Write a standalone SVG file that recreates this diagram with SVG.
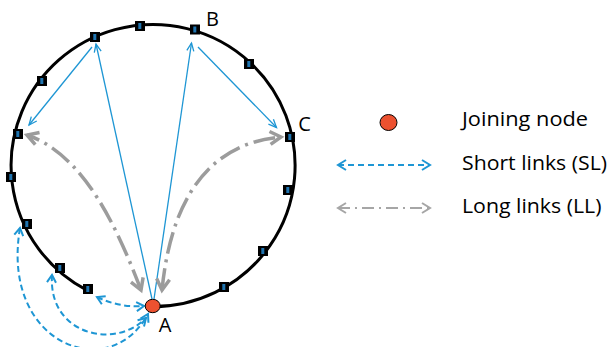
<svg xmlns="http://www.w3.org/2000/svg" width="609" height="347" viewBox="0 0 609 347">
<style>
.ring{fill:none;stroke:#000;stroke-width:3}
.sol{fill:none;stroke:#1E96D4;stroke-width:1.3;marker-end:url(#mb)}
.sl{fill:none;stroke:#1E96D4;stroke-width:2;stroke-dasharray:6 3.5;marker-start:url(#md);marker-end:url(#md)}
.ll{fill:none;stroke:#9C9C9C;stroke-width:3.5;stroke-dasharray:22 6 3 6;marker-start:url(#mg);marker-end:url(#mg)}
.lsl{fill:none;stroke:#1E96D4;stroke-width:2;stroke-dasharray:6 4;marker-start:url(#mdl);marker-end:url(#mdl)}
.lll{fill:none;stroke:#A6A6A6;stroke-width:2;stroke-dasharray:12 5 2 5;marker-start:url(#mgl);marker-end:url(#mgl)}
text{font-family:"Open Sans","Liberation Sans",sans-serif;fill:#000}
.lbl{font-size:20px;text-anchor:middle}
.leg{font-size:20px}
.join{fill:#EC5130;stroke:#000;stroke-width:1}
</style>
<defs>
<marker id="mb" markerUnits="userSpaceOnUse" markerWidth="24" markerHeight="24" viewBox="-12 -12 24 24" refX="0" refY="0" orient="auto-start-reverse" overflow="visible"><path d="M-8,-3.5 L0,0 L-8,3.5" fill="none" stroke="#1E96D4" stroke-width="1.3"/></marker>
<marker id="md" markerUnits="userSpaceOnUse" markerWidth="24" markerHeight="24" viewBox="-12 -12 24 24" refX="0" refY="0" orient="auto-start-reverse" overflow="visible"><path d="M-7.5,-4.5 L0,0 L-7.5,4.5" fill="none" stroke="#1E96D4" stroke-width="2"/></marker>
<marker id="mg" markerUnits="userSpaceOnUse" markerWidth="30" markerHeight="30" viewBox="-15 -15 30 30" refX="0" refY="0" orient="auto-start-reverse" overflow="visible"><path d="M-11,-6.5 L0,0 L-11,6.5" fill="none" stroke="#9C9C9C" stroke-width="3.5"/></marker>
<marker id="mdl" markerUnits="userSpaceOnUse" markerWidth="24" markerHeight="24" viewBox="-12 -12 24 24" refX="0" refY="0" orient="auto-start-reverse" overflow="visible"><path d="M-8,-5 L0,0 L-8,5" fill="none" stroke="#1E96D4" stroke-width="2"/></marker>
<marker id="mgl" markerUnits="userSpaceOnUse" markerWidth="24" markerHeight="24" viewBox="-12 -12 24 24" refX="0" refY="0" orient="auto-start-reverse" overflow="visible"><path d="M-8,-5 L0,0 L-8,5" fill="none" stroke="#A6A6A6" stroke-width="2"/></marker>
<symbol id="sq" overflow="visible"><rect x="-5" y="-5" width="10" height="10" fill="#000"/><rect x="-1.7" y="-3" width="3" height="6" fill="#1F74B0"/></symbol>
</defs>

<path id="ring" class="ring" d="M153,306.5 A142,141 0 1 0 87.2,290.4"/>

<g id="connectors">
<path class="sol" d="M152,299 L96,44"/>
<path class="sol" d="M92,47 L29,125"/>
<path class="sol" d="M154,299 L191.5,43"/>
<path class="sol" d="M198,47 L276.5,127.5"/>
<path class="ll" d="M141,290 C118,230 85,155 27,135"/>
<path class="ll" d="M162,290 C168,230 190,145 281,137"/>
<path class="sl" d="M97,297 Q120,308 144,306"/>
<path class="sl" d="M52,275 C48,335 115,350 146,318"/>
<path class="sl" d="M20,228 C0,345 110,385 148,314"/>
</g>

<g id="n1"><use href="#sq" x="95" y="37"/></g>
<g id="n2"><use href="#sq" x="140" y="26"/></g>
<g id="nB"><use href="#sq" x="195" y="29.5"/></g>
<g id="n4"><use href="#sq" x="249" y="64"/></g>
<g id="n5"><use href="#sq" x="42" y="81"/></g>
<g id="n6"><use href="#sq" x="18" y="134"/></g>
<g id="nC"><use href="#sq" x="290" y="137"/></g>
<g id="n8"><use href="#sq" x="11" y="177"/></g>
<g id="n9"><use href="#sq" x="288" y="190"/></g>
<g id="n10"><use href="#sq" x="27" y="224"/></g>
<g id="n11"><use href="#sq" x="60" y="268"/></g>
<g id="n12"><use href="#sq" x="88" y="289"/></g>
<g id="n13"><use href="#sq" x="263" y="251"/></g>
<g id="n14"><use href="#sq" x="224" y="287"/></g>
<g id="nA"><ellipse class="join" cx="152.7" cy="306" rx="7.5" ry="6.7"/></g>

<g id="labels">
<text class="lbl" x="212.4" y="25.5">B</text>
<text class="lbl" x="304.5" y="131">C</text>
<text class="lbl" x="165" y="332">A</text>
</g>

<g id="legend">
<ellipse class="join" cx="388.5" cy="122.5" rx="8.5" ry="8"/>
<text class="leg" x="462" y="126" textLength="126" lengthAdjust="spacingAndGlyphs">Joining node</text>
<path class="lsl" d="M338,165 L430,165"/>
<text class="leg" x="462" y="170" textLength="145" lengthAdjust="spacingAndGlyphs">Short links (SL)</text>
<path class="lll" d="M338,208 L430,208"/>
<text class="leg" x="462" y="212.7" textLength="139.5" lengthAdjust="spacingAndGlyphs">Long links (LL)</text>
</g>
</svg>
